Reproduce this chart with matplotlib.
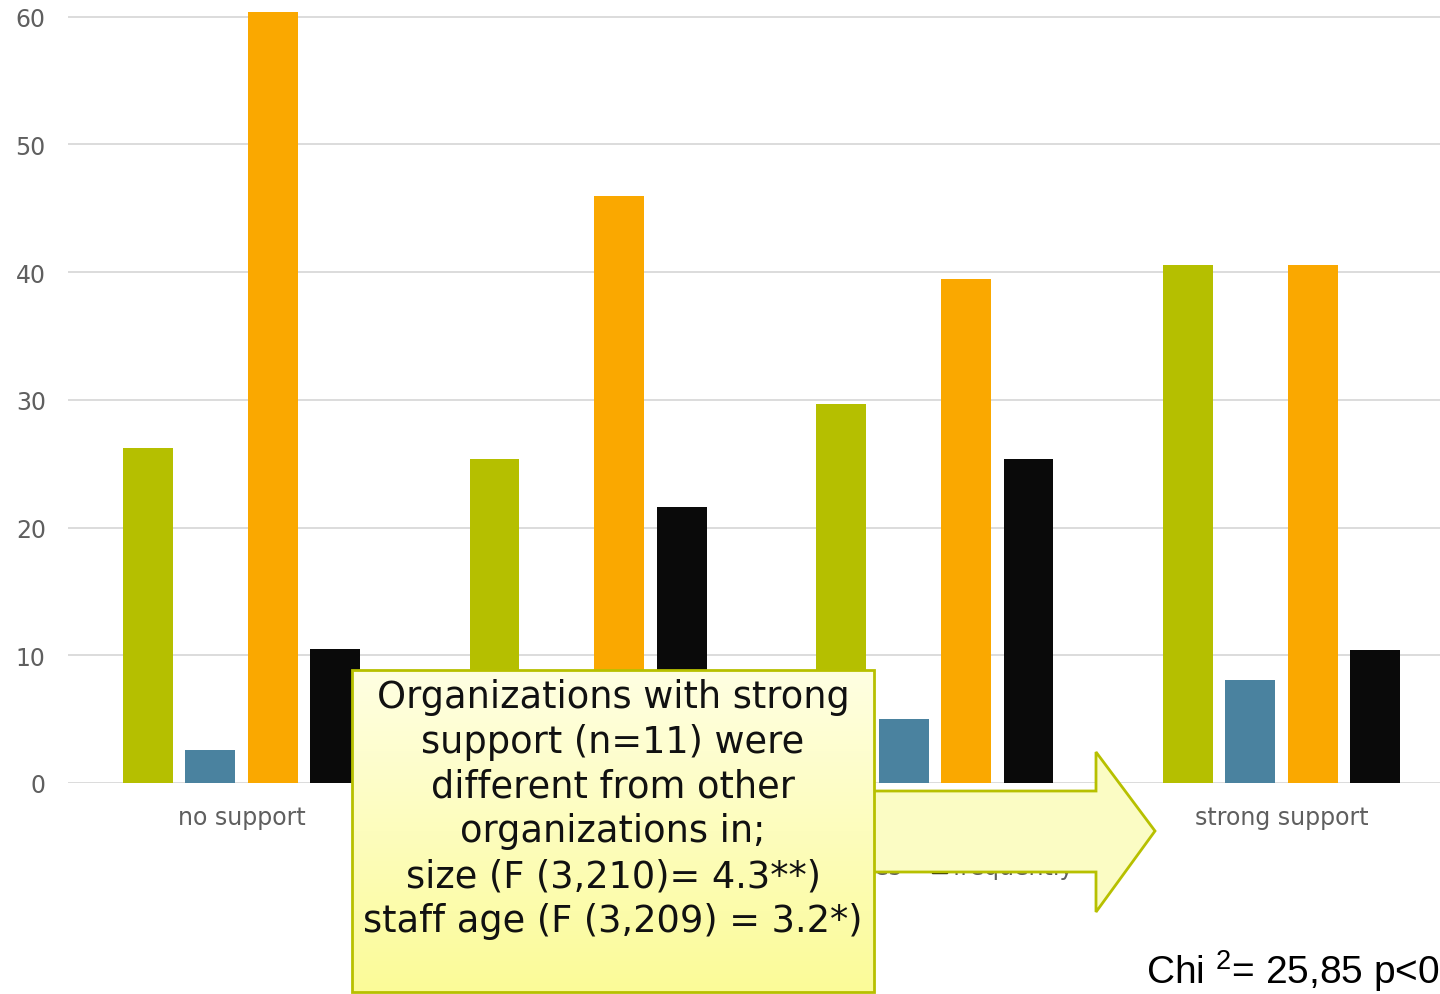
import numpy as np
import matplotlib.pyplot as plt
from matplotlib.patches import Patch, Rectangle, Polygon
from matplotlib.colors import LinearSegmentedColormap

categories = ['no support', 'weak support', 'moderate support', 'strong support']
series = ['never', 'rarely', 'sometimes', 'frequently']
never = [26.2, 25.4, 29.7, 40.6]
rarely = [2.6, 7.0, 5.0, 8.1]
sometimes = [60.4, 46.0, 39.5, 40.6]
frequently = [10.5, 21.6, 25.4, 10.4]
colors = ['#b5bf00', '#4a829f', '#faa800', '#0a0a0a']

box_lines = ['Organizations with strong', 'support (n=11) were',
             'different from other', 'organizations in;',
             'size (F (3,210)= 4.3**)', 'staff age (F (3,209) = 3.2*)']
chi_text = r'Chi $^{2}$= 25,85 p<0,001'

plt.rcParams['mathtext.fontset'] = 'custom'
plt.rcParams['mathtext.rm'] = 'Liberation Sans'
plt.rcParams['mathtext.it'] = 'Liberation Sans'

W, H = 1440, 995
fig = plt.figure(figsize=(W / 100, H / 100), dpi=100)
ax = fig.add_axes([68 / W, (H - 784) / H, (1455 - 68) / W, 779 / H])

x = np.arange(len(categories))
width = 0.144
step = 0.18
for k, (vals, c) in enumerate(zip([never, rarely, sometimes, frequently], colors)):
    ax.bar(x + (k - 1.5) * step, vals, width, color=c, zorder=2)

ax.set_xlim(-0.5, 3.5)
ax.set_ylim(0, 61)
ax.set_yticks(range(0, 61, 10))
ax.set_xticks(x)
ax.set_xticklabels(categories)
ax.tick_params(axis='both', length=0, labelsize=17, labelcolor='#5f5f5f')
ax.tick_params(axis='y', pad=16)
ax.tick_params(axis='x', pad=16)
ax.grid(axis='y', color='#d9d9d9', lw=1.3)
ax.set_axisbelow(True)
for s in ax.spines.values():
    s.set_visible(False)

handles = [Patch(color=c, label=l) for c, l in zip(colors, series)]
ax.legend(handles=handles, loc='center right', bbox_to_anchor=(1074 / W, 1 - 868 / H),
          bbox_transform=fig.transFigure, ncol=4, frameon=False, fontsize=17,
          labelcolor='#5f5f5f', handlelength=0.6, handleheight=0.6,
          handletextpad=0.25, columnspacing=1.3, borderpad=0, borderaxespad=0)

# overlay in pixel coordinates for the callout
ov = fig.add_axes([0, 0, 1, 1], zorder=10)
ov.axis('off')
ov.patch.set_visible(False)

edge = '#b7c000'
arrow = Polygon([(600, 792), (1096, 792), (1096, 753), (1155, 832),
                 (1096, 913), (1096, 873), (600, 873)], closed=True,
                facecolor='#fbfcc4', edgecolor=edge, lw=2, zorder=1)
ov.add_patch(arrow)

bx0, by0, bx1, by1 = 352, 671, 874, 993
grad = np.linspace(0, 1, 256).reshape(-1, 1)
cmap = LinearSegmentedColormap.from_list('yel', ['#ffffe2', '#fbfb98'])
img = ov.imshow(grad, cmap=cmap, extent=(bx0, bx1, by1, by0), aspect='auto',
                zorder=2, interpolation='bilinear')
rect = Rectangle((bx0, by0), bx1 - bx0, by1 - by0, facecolor='none',
                 edgecolor=edge, lw=2, zorder=3)
ov.add_patch(rect)
img.set_clip_path(rect)
ov.set_xlim(0, W)
ov.set_ylim(H, 0)

ov.text((bx0 + bx1) / 2, 809.5, '\n'.join(box_lines), ha='center', va='center',
        fontsize=26.5, linespacing=1.27, color='#111111', zorder=4)

ov.text(1146, 984, chi_text, ha='left', va='baseline', fontsize=28,
        family='Liberation Sans', color='black', zorder=4)

fig.savefig('out.png', dpi=100)
